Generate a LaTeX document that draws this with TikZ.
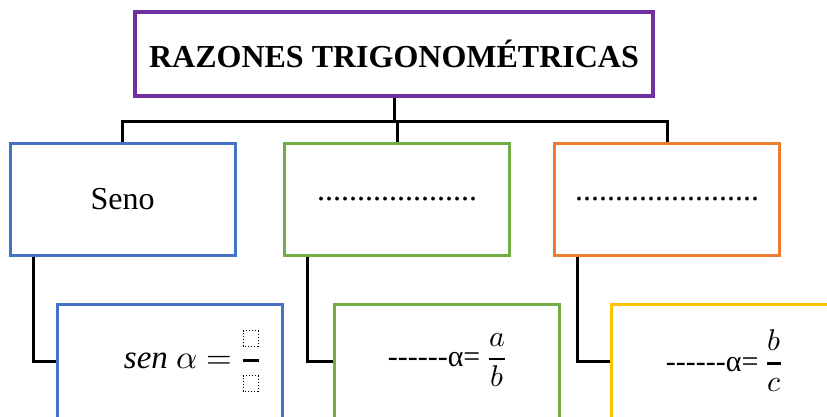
\documentclass[tikz,border=0pt]{standalone}
\usepackage{amsmath}
\usepackage{fontspec}
\usepackage{unicode-math}
\setmainfont{Liberation Serif}
\setmathfont{Latin Modern Math}
\definecolor{cpurple}{HTML}{7030A0}
\definecolor{cblue}{HTML}{4472C4}
\definecolor{cgreen}{HTML}{70AD47}
\definecolor{corange}{HTML}{ED7D31}
\definecolor{cyellow}{HTML}{FFC000}
% dotted placeholder square
\newcommand{\holder}{\tikz[baseline=0pt]\draw[dotted,line width=1.1pt] (0,0) rectangle (15pt,16pt);}
% six separate hyphens (no dash ligatures)
\newcommand{\blanks}{-{}-{}-{}-{}-{}-}
% fraction with a heavier bar
\newcommand{\hfrac}[2]{\genfrac{}{}{2.6pt}{0}{#1}{#2}}
\begin{document}
\begin{tikzpicture}[x=1pt,y=-1pt,
  box/.style={draw,line width=3pt,minimum width=225pt,minimum height=112pt,inner sep=0pt},
  lowbox/.style={draw,line width=3pt,minimum width=225pt,minimum height=114pt,anchor=north west,inner sep=0pt},
  link/.style={line width=3pt,black},
  big/.style={font=\fontsize{32}{38}\selectfont},
  formula/.style={font=\fontsize{30}{36}\selectfont,inner sep=0pt}]
\useasboundingbox (0,0) rectangle (827,416);
\clip (0,0) rectangle (827,416);

% title
\node[draw=cpurple,line width=3.5pt,minimum width=518pt,minimum height=84pt,
  font=\fontsize{32}{38}\selectfont\bfseries]
  (title) at (394,54) {RAZONES TRIGONOMÉTRICAS};

% first level
\node[box,draw=cblue,big] (seno) at (122.5,199) {Seno};
\node[box,draw=cgreen,big] (coseno) at (397,199) {....................};
\node[box,draw=corange,big] (tang) at (667,199) {.......................};

% second level
\node[lowbox,draw=cblue] (fsen) at (56,303) {};
\node[lowbox,draw=cgreen] (fcos) at (333,303) {};
\node[lowbox,draw=cyellow] (ftan) at (610,303) {};

\node[formula,font=\fontsize{33}{38}\selectfont,anchor=east] (tsen) at (260,361)
  {$\mathit{sen}\ \alpha=\hfrac{\holder}{\holder}$};
\node[formula] (tcos) at (447,360) {\blanks α= $\hfrac{a}{b}$};
\node[formula] (ttan) at (724,361) {\blanks α= $\hfrac{b}{c}$};

% connectors
\coordinate (hub) at ([yshift=-24pt]title.south);
\draw[link] (title.south) -- (hub);
\draw[link] (seno.north) |- (hub) -| (tang.north);
\draw[link] (coseno.north |- hub) -- (coseno.north);
\draw[link] ([xshift=25pt]seno.south west) |- (fsen.west);
\draw[link] ([xshift=24pt]coseno.south west) |- (fcos.west);
\draw[link] ([xshift=24pt]tang.south west) |- (ftan.west);
\end{tikzpicture}
\end{document}
